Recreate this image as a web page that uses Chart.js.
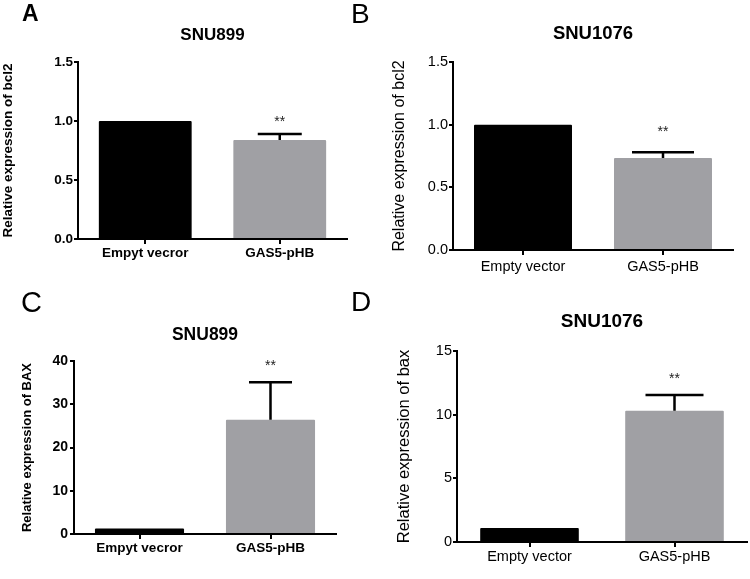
<!DOCTYPE html>
<html>
<head>
<meta charset="utf-8">
<script src="https://cdn.jsdelivr.net/npm/chart.js@4"></script>
<style>
  body { margin: 0; background: #fff; }
  #fig { position: relative; width: 750px; height: 579px; overflow: hidden; }
  .panel { position: absolute; }
  .letter { position: absolute; font-family: 'Liberation Sans', Arial, sans-serif; color: #000; line-height: 1; }
</style>
</head>
<body>
<div id="fig">
  <div class="panel" style="left:0;top:0;width:375px;height:280px"><canvas id="chartA" width="375" height="280"></canvas></div>
  <div class="panel" style="left:375px;top:0;width:375px;height:280px"><canvas id="chartB" width="375" height="280"></canvas></div>
  <div class="panel" style="left:0;top:280px;width:375px;height:299px"><canvas id="chartC" width="375" height="299"></canvas></div>
  <div class="panel" style="left:375px;top:280px;width:375px;height:299px"><canvas id="chartD" width="375" height="299"></canvas></div>
  <div class="letter" style="left:22px;top:2px;font-size:23px;font-weight:bold">A</div>
  <div class="letter" style="left:351px;top:0px;font-size:28px">B</div>
  <div class="letter" style="left:21px;top:288px;font-size:29px">C</div>
  <div class="letter" style="left:351px;top:288px;font-size:28px">D</div>
</div>
<script>
// Group labels (panels A and C keep the spelling used in the figure)
const labelsSNU899 = ['Empyt vecror', 'GAS5-pHB'];
const labelsSNU1076 = ['Empty vector', 'GAS5-pHB'];

// Panel A - bcl2 in SNU899
const bcl2SNU899 = [1.0, 0.84];
const bcl2SNU899Err = [0, 0.05];
const bcl2SNU899Ticks = [0, 0.5, 1.0, 1.5];

// Panel B - bcl2 in SNU1076
const bcl2SNU1076 = [1.0, 0.735];
const bcl2SNU1076Err = [0, 0.045];
const bcl2SNU1076Ticks = [0, 0.5, 1.0, 1.5];

// Panel C - BAX in SNU899
const baxSNU899 = [1.3, 26.4];
const baxSNU899Err = [0, 8.7];
const baxSNU899Ticks = [0, 10, 20, 30, 40];

// Panel D - bax in SNU1076
const baxSNU1076 = [1.1, 10.3];
const baxSNU1076Err = [0, 1.25];
const baxSNU1076Ticks = [0, 5, 10, 15];

const significance = ['', '**'];

const FONT = "'Liberation Sans', Arial, sans-serif";
const barColors = ['#000000', '#a0a0a4'];

// Draws the upper error bar and significance stars above each bar
const errorBarPlugin = {
    id: 'errorBars',
    afterDatasetsDraw(chart, args, opts) {
        const ctx = chart.ctx;
        const x = chart.scales.x;
        const y = chart.scales.y;
        const values = chart.data.datasets[0].data;
        ctx.save();
        ctx.strokeStyle = '#000';
        ctx.lineWidth = opts.lineWidth;
        values.forEach((v, i) => {
            const err = opts.errors[i];
            if (!err) return;
            const px = x.getPixelForValue(i);
            const yBar = y.getPixelForValue(v);
            const yTop = y.getPixelForValue(v + err);
            ctx.beginPath();
            ctx.moveTo(px, yBar);
            ctx.lineTo(px, yTop);
            ctx.moveTo(px - opts.capWidth / 2, yTop);
            ctx.lineTo(px + opts.capWidth / 2, yTop);
            ctx.stroke();
            if (opts.stars[i]) {
                ctx.fillStyle = '#222';
                ctx.font = '14px ' + FONT;
                ctx.textAlign = 'center';
                ctx.textBaseline = 'middle';
                ctx.fillText(opts.stars[i], px, yTop - opts.starGap);
            }
        });
        ctx.restore();
    }
};

function makePanel(id, p) {
    const canvas = document.getElementById(id);
    return new Chart(canvas, {
        type: 'bar',
        data: {
            labels: p.labels,
            datasets: [{
                data: p.values,
                backgroundColor: barColors,
                borderWidth: 0,
                borderRadius: 1,
                barPercentage: p.barPct,
                categoryPercentage: 1
            }]
        },
        options: {
            responsive: false,
            animation: false,
            events: [],
            layout: { padding: { left: 0, right: p.padRight, top: 0, bottom: 0 } },
            plugins: {
                legend: { display: false },
                tooltip: { enabled: false },
                title: {
                    display: true,
                    text: p.title,
                    fullSize: false,
                    color: '#000',
                    font: { family: FONT, size: p.titleSize, weight: 'bold' },
                    padding: { top: p.titleTop, bottom: p.titleBottom }
                },
                errorBars: {
                    errors: p.errors,
                    stars: significance,
                    capWidth: p.capWidth,
                    starGap: p.starGap,
                    lineWidth: 2.5
                }
            },
            scales: {
                x: {
                    afterFit: s => { s.height = p.xHeight; },
                    border: { color: '#000', width: 2 },
                    grid: { drawOnChartArea: false, offset: false, tickLength: 5, color: '#000', lineWidth: 2 },
                    ticks: {
                        color: '#000',
                        padding: p.xPad,
                        maxRotation: 0,
                        font: { family: FONT, size: p.xSize, weight: p.weight }
                    }
                },
                y: {
                    min: 0,
                    max: p.ticks[p.ticks.length - 1],
                    afterFit: s => { s.width = p.yWidth; },
                    afterBuildTicks: s => { s.ticks = p.ticks.map(v => ({ value: v })); },
                    border: { color: '#000', width: 2 },
                    grid: { drawOnChartArea: false, tickLength: 4, color: '#000', lineWidth: 2 },
                    ticks: {
                        color: '#000',
                        padding: p.yPad,
                        font: { family: FONT, size: p.tickSize, weight: p.weight },
                        callback: v => v.toFixed(p.decimals)
                    },
                    title: {
                        display: true,
                        text: p.yTitle,
                        color: '#000',
                        font: { family: FONT, size: p.yTitleSize, weight: p.weight },
                        padding: { top: p.yTitlePad, bottom: 0 }
                    }
                }
            }
        },
        plugins: [errorBarPlugin]
    });
}

makePanel('chartA', {
    labels: labelsSNU899, values: bcl2SNU899, errors: bcl2SNU899Err, ticks: bcl2SNU899Ticks,
    decimals: 1, title: 'SNU899', yTitle: 'Relative expression of bcl2', weight: 'bold',
    titleSize: 17, titleTop: 25.3, titleBottom: 16.3, padRight: 28, yWidth: 78, xHeight: 41,
    tickSize: 13.5, xSize: 13.5, yTitleSize: 13.5, yTitlePad: 0, yPad: 1, xPad: 1,
    barPct: 0.69, capWidth: 44, starGap: 12
});

makePanel('chartB', {
    labels: labelsSNU1076, values: bcl2SNU1076, errors: bcl2SNU1076Err, ticks: bcl2SNU1076Ticks,
    decimals: 1, title: 'SNU1076', yTitle: 'Relative expression of bcl2', weight: 'normal',
    titleSize: 18.5, titleTop: 22.4, titleBottom: 17.4, padRight: 17, yWidth: 78, xHeight: 30,
    tickSize: 14.5, xSize: 14.5, yTitleSize: 16, yTitlePad: 15, yPad: 1, xPad: 3.5,
    barPct: 0.7, capWidth: 62, starGap: 20
});

makePanel('chartC', {
    labels: labelsSNU899, values: baxSNU899, errors: baxSNU899Err, ticks: baxSNU899Ticks,
    decimals: 0, title: 'SNU899', yTitle: 'Relative expression of BAX', weight: 'bold',
    titleSize: 17.5, titleTop: 45, titleBottom: 15, padRight: 39, yWidth: 74, xHeight: 45,
    tickSize: 14, xSize: 13.5, yTitleSize: 13, yTitlePad: 19.5, yPad: 2, xPad: 1.2,
    barPct: 0.68, capWidth: 43, starGap: 16
});

makePanel('chartD', {
    labels: labelsSNU1076, values: baxSNU1076, errors: baxSNU1076Err, ticks: baxSNU1076Ticks,
    decimals: 0, title: 'SNU1076', yTitle: 'Relative expression of bax', weight: 'normal',
    titleSize: 19, titleTop: 30.1, titleBottom: 18.1, padRight: 3, yWidth: 82, xHeight: 37,
    tickSize: 14.5, xSize: 14.5, yTitleSize: 16.5, yTitlePad: 20, yPad: 1, xPad: 1.6,
    barPct: 0.68, capWidth: 58, starGap: 16
});
</script>
</body>
</html>
